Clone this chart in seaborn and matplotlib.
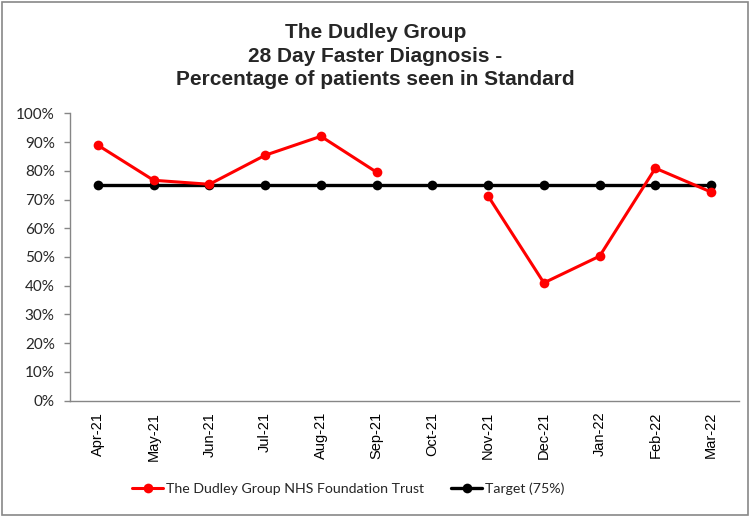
import numpy as np
import pandas as pd
import seaborn as sns
from matplotlib import pyplot as plt
from matplotlib.lines import Line2D
from matplotlib.patches import Rectangle
from matplotlib.ticker import PercentFormatter, FixedLocator

# chart data
months = ['Apr-21', 'May-21', 'Jun-21', 'Jul-21', 'Aug-21', 'Sep-21',
          'Oct-21', 'Nov-21', 'Dec-21', 'Jan-22', 'Feb-22', 'Mar-22']
trust = [0.889, 0.767, 0.753, 0.854, 0.920, 0.795,
         np.nan, 0.712, 0.410, 0.503, 0.809, 0.726]
target = [0.75] * 12

trust_label = 'The Dudley Group NHS Foundation Trust'
target_label = 'Target (75%)'
title = 'The Dudley Group\n28 Day Faster Diagnosis -\nPercentage of patients seen in Standard'

df = pd.DataFrame({'month': months, 'pos': range(len(months)),
                   'trust': trust, 'target': target})
# split the trust series where a month is missing so the line breaks there
df['segment'] = df['trust'].isna().cumsum()

sns.set_style('white')
plt.rcParams['font.family'] = ['Liberation Sans', 'DejaVu Sans']

fig = plt.figure(figsize=(7.51, 5.17), dpi=100)
ax = fig.add_axes([70 / 751, 1 - 400.7 / 517, 669 / 751, 287.4 / 517])

sns.lineplot(data=df, x='pos', y='target', color='black', marker='o',
             markersize=7, markeredgewidth=0, linewidth=2.4, ax=ax, zorder=2)
sns.lineplot(data=df.dropna(subset=['trust']), x='pos', y='trust', units='segment',
             estimator=None, color='#ff0000', marker='o', markersize=7,
             markeredgewidth=0, linewidth=2.2, ax=ax, zorder=3)

ax.set_xlim(-0.5, len(months) - 0.5)
ax.set_ylim(0, 1)
ax.yaxis.set_major_locator(FixedLocator(np.arange(0, 1.01, 0.1)))
ax.yaxis.set_major_formatter(PercentFormatter(1.0, decimals=0))
ax.set_xticks(df['pos'])
ax.set_xticklabels(months, rotation=90, fontsize=10.5)
ax.set_xticks(np.arange(-0.5, len(months), 1), minor=True)
ax.tick_params(axis='x', which='major', length=0, pad=8, labelcolor='black')
ax.tick_params(axis='x', which='minor', length=4, color='#868686', width=1, direction='out')
ax.tick_params(axis='y', length=4, color='#868686', width=1, direction='out', left=True,
               pad=7, labelcolor='#262626')
for lab in ax.get_yticklabels():
    lab.set_fontfamily('Lato')
    lab.set_fontsize(11)
ax.set_xlabel('')
ax.set_ylabel('')

for side in ['top', 'right']:
    ax.spines[side].set_visible(False)
for side in ['left', 'bottom']:
    ax.spines[side].set_color('#868686')
    ax.spines[side].set_linewidth(1)

fig.text(0.5, 1 - 56 / 517, title, ha='center', va='center', fontsize=15,
         fontweight='bold', linespacing=1.31)

handles = [Line2D([], [], color='#ff0000', marker='o', markersize=7, markeredgewidth=0, linewidth=2.2),
           Line2D([], [], color='black', marker='o', markersize=7, markeredgewidth=0, linewidth=2.4)]
fig.legend(handles, [trust_label, target_label], loc='center left',
           bbox_to_anchor=(132 / 751, 1 - 489 / 517), ncol=2, frameon=False,
           borderpad=0, borderaxespad=0, handlelength=2.2, handletextpad=0.2,
           columnspacing=1.9, prop={'family': 'Lato', 'size': 10.2})

fig.patches.append(Rectangle((0.002, 0.003), 0.994, 0.993, transform=fig.transFigure,
                             fill=False, edgecolor='#888888', linewidth=1.2))

fig.savefig('out.png', dpi=100)
